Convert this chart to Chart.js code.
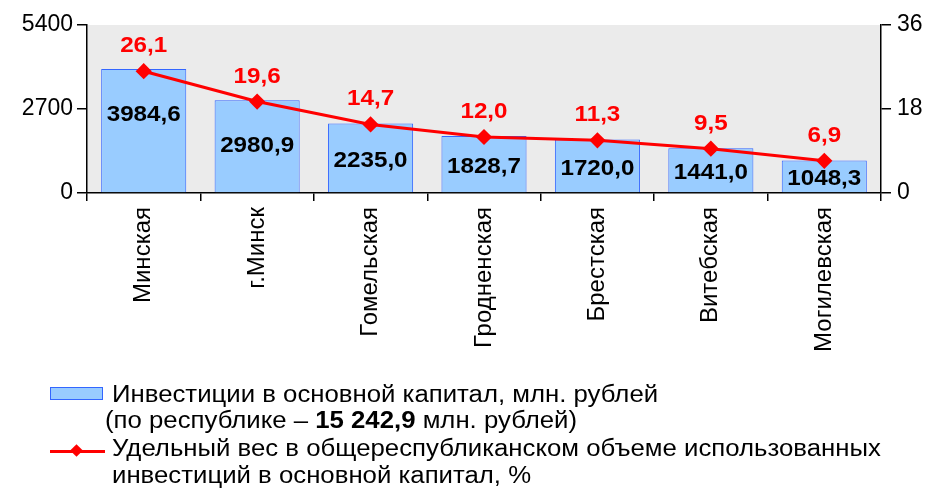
<html>
<head>
<meta charset="utf-8">
<title>Инвестиции в основной капитал</title>
<script src="https://cdn.jsdelivr.net/npm/chart.js@4.4.0/dist/chart.umd.min.js"></script>
<style>
  body { margin: 0; background: #fff; font-family: "Liberation Sans", Arial, sans-serif; }
  #wrap { position: relative; width: 928px; height: 492px; }
  #myChart { position: absolute; left: 0; top: 0; }
  .lg { position: absolute; font-size: 23px; line-height: 23px; color: #000; white-space: nowrap;
        transform: scaleX(1.12); transform-origin: 0 0; }
  #swatch { position: absolute; left: 50px; top: 387px; width: 51px; height: 11px; background: #99ccff; border: 1px solid #3366ff; }
  #lineMark { position: absolute; left: 50px; top: 450px; width: 55px; height: 3px; background: #ff0000; }
  #diamond { position: absolute; left: 72px; top: 446px; width: 9px; height: 9px; background: #ff0000; transform: rotate(45deg); }
</style>
</head>

<body>
<div id="wrap">
    <canvas id="myChart" width="928" height="492"></canvas>
    <div id="swatch"></div>
    <div class="lg" style="left:112px; top:383px;">Инвестиции в основной капитал, млн. рублей</div>
    <div class="lg" style="left:105px; top:409px;">(по республике – <b>15 242,9</b> млн. рублей)</div>
    <div id="lineMark"></div>
    <div id="diamond"></div>
    <div class="lg" style="left:112px; top:437px;">Удельный вес в общереспубликанском объеме использованных</div>
    <div class="lg" style="left:112px; top:464px;">инвестиций в основной капитал, %</div>
</div>

<script>
    // data
    var regions = ['Минская', 'г.Минск', 'Гомельская', 'Гродненская', 'Брестская', 'Витебская', 'Могилевская'];
    var investments = [3984.6, 2980.9, 2235.0, 1828.7, 1720.0, 1441.0, 1048.3];
    var shares = [26.1, 19.6, 14.7, 12.0, 11.3, 9.5, 6.9];
    var leftTicks = [0, 2700, 5400];
    var rightTicks = [0, 18, 36];

    var FONT = '"Liberation Sans", Arial, sans-serif';
    var STRETCH = 1.1;

    function fmt(v) {
        return v.toFixed(1).replace('.', ',');
    }

    // text drawn a bit wider, like the original
    function wideText(ctx, txt, x, y) {
        ctx.save();
        ctx.translate(x, y);
        ctx.scale(STRETCH, 1);
        ctx.fillText(txt, 0, 0);
        ctx.restore();
    }

    // grey plot background
    var plotBg = {
        id: 'plotBg',
        beforeDraw: function (chart) {
            var a = chart.chartArea, ctx = chart.ctx;
            ctx.save();
            ctx.fillStyle = '#ebebeb';
            ctx.fillRect(a.left, a.top, a.right - a.left, a.bottom - a.top);
            ctx.restore();
        }
    };

    // value labels for bars and line points
    var valueLabels = {
        id: 'valueLabels',
        afterDatasetsDraw: function (chart) {
            var ctx = chart.ctx;
            ctx.save();
            ctx.textAlign = 'center';
            ctx.textBaseline = 'middle';

            var barMeta = chart.getDatasetMeta(1);
            ctx.font = 'bold 22px ' + FONT;
            ctx.fillStyle = '#000';
            barMeta.data.forEach(function (bar, i) {
                var h = bar.base - bar.y;
                var y = bar.y + Math.min(h / 2 + 3, 46);
                wideText(ctx, fmt(investments[i]), bar.x, y);
            });

            var lineMeta = chart.getDatasetMeta(0);
            ctx.fillStyle = '#ff0000';
            lineMeta.data.forEach(function (pt, i) {
                wideText(ctx, fmt(shares[i]), pt.x, pt.y - 25);
            });
            ctx.restore();
        }
    };

    var ctx = document.getElementById('myChart').getContext('2d');
    var chart = new Chart(ctx, {
        type: 'bar',
        data: {
            labels: regions,
            datasets: [{
                type: 'line',
                label: 'Удельный вес в общереспубликанском объеме использованных инвестиций в основной капитал, %',
                data: shares,
                yAxisID: 'y1',
                borderColor: '#ff0000',
                backgroundColor: '#ff0000',
                borderWidth: 3,
                pointStyle: 'rectRot',
                pointRadius: 6,
                pointBackgroundColor: '#ff0000',
                pointBorderColor: '#ff0000',
                tension: 0
            }, {
                label: 'Инвестиции в основной капитал, млн. рублей',
                data: investments,
                yAxisID: 'y',
                backgroundColor: '#99ccff',
                borderColor: '#3366ff',
                borderWidth: 1,
                barPercentage: 0.75,
                categoryPercentage: 1
            }]
        },
        options: {
            responsive: false,
            animation: false,
            layout: { padding: { top: 25, left: 0, right: 0, bottom: 0 } },
            plugins: {
                legend: { display: false },
                tooltip: { enabled: false }
            },
            scales: {
                x: {
                    offset: true,
                    grid: { offset: true, drawOnChartArea: false, tickLength: 8, color: '#000', lineWidth: 1.5 },
                    border: { color: '#000', width: 1.5 },
                    ticks: {
                        minRotation: 90, maxRotation: 90, autoSkip: false,
                        color: '#000', padding: 6,
                        font: { family: FONT, size: 24 }
                    },
                    afterFit: function (s) { s.height = 299; }
                },
                y: {
                    position: 'left',
                    min: 0, max: 5400,
                    afterBuildTicks: function (s) { s.ticks = leftTicks.map(function (v) { return { value: v }; }); },
                    grid: { drawOnChartArea: false, tickLength: 10, color: '#000', lineWidth: 1.5 },
                    border: { color: '#000', width: 1.5 },
                    ticks: {
                        color: '#000', padding: 4, font: { family: FONT, size: 23 },
                        callback: function (v) { return String(v); }
                    },
                    afterFit: function (s) { s.width = 87; }
                },
                y1: {
                    position: 'right',
                    min: 0, max: 36,
                    afterBuildTicks: function (s) { s.ticks = rightTicks.map(function (v) { return { value: v }; }); },
                    grid: { drawOnChartArea: false, tickLength: 10, color: '#000', lineWidth: 1.5 },
                    border: { color: '#000', width: 1.5 },
                    ticks: {
                        color: '#000', padding: 6, font: { family: FONT, size: 23 },
                        callback: function (v) { return String(v); }
                    },
                    afterFit: function (s) { s.width = 47; }
                }
            }
        },
        plugins: [plotBg, valueLabels]
    });
</script>
</body>
</html>
